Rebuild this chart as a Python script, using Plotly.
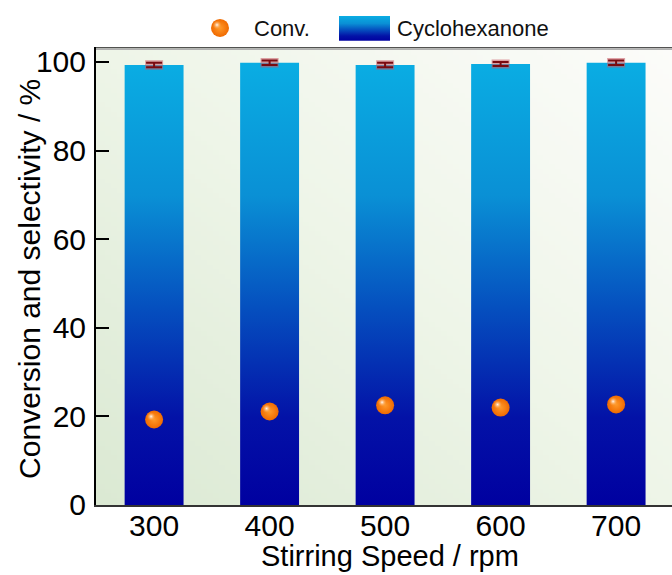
import plotly.graph_objects as go
import zlib, struct, base64

# ---- data ----
speeds = [300, 400, 500, 600, 700]
tick_labels = ["300", "400", "500", "600", "700"]
selectivity = [99.3, 99.8, 99.3, 99.55, 99.8]      # Cyclohexanone selectivity / %
sel_err = [0.5, 0.5, 0.5, 0.45, 0.5]
conversion = [19.3, 21.1, 22.5, 22.0, 22.7]         # Conv. / %
y_ticks = [0, 20, 40, 60, 80, 100]

# ---- styling ----
FONT = "Liberation Sans, Arial, sans-serif"
bar_width = 51
x_range = [249.7, 748.4]
y_range = [0, 103.3]
W, H = 672, 575
ML, MB = 96, 70
top_px = 45.5
plot_h = H - MB
plot_w = W - ML
main_top = (plot_h - top_px) / plot_h

bar_scale = [[0, "#0000A0"], [0.2, "#0312A7"], [0.45, "#0550BF"],
             [0.7, "#0A90D5"], [1, "#0AADE3"]]


def png_uri(w, h, fn):
    raw = b"".join(b"\x00" + b"".join(bytes(fn(i, j)) for i in range(w)) for j in range(h))

    def chunk(t, d):
        return struct.pack(">I", len(d)) + t + d + struct.pack(">I", zlib.crc32(t + d) & 0xffffffff)
    png = (b"\x89PNG\r\n\x1a\n" + chunk(b"IHDR", struct.pack(">IIBBBBB", w, h, 8, 2, 0, 0, 0))
           + chunk(b"IDAT", zlib.compress(raw)) + chunk(b"IEND", b""))
    return "data:image/png;base64," + base64.b64encode(png).decode()


bg_stops = [(0.0, (219, 233, 211)), (0.5, (238, 245, 232)), (1.0, (252, 252, 250))]


def bg_pix(i, j, w=96, h=96):
    s = (i / (w - 1) + (1 - j / (h - 1))) / 2
    for (a, ca), (b, cb) in zip(bg_stops[:-1], bg_stops[1:]):
        if s <= b:
            t = (s - a) / (b - a)
            return [round(ca[k] + (cb[k] - ca[k]) * t) for k in range(3)]
    return list(bg_stops[-1][1])


bg_uri = png_uri(96, 96, bg_pix)

# ---- bars as gradient-filled shapes on the data axes ----
bx, by = [], []
for c, v in zip(speeds, selectivity):
    bx += [c - bar_width / 2, c + bar_width / 2, c + bar_width / 2, c - bar_width / 2, c - bar_width / 2, None]
    by += [0, 0, v, v, 0, None]

fig = go.Figure()
fig.add_trace(go.Scatter(
    x=bx, y=by, mode="lines", fill="toself",
    line=dict(width=0, color="rgba(0,0,0,0)"),
    fillgradient=dict(type="vertical", colorscale=bar_scale, start=0, stop=100),
    hoverinfo="skip", name="Cyclohexanone"))

# error bars (halo + core)
fig.add_trace(go.Scatter(
    x=speeds, y=selectivity, mode="markers", marker=dict(size=1, opacity=0),
    error_y=dict(type="data", array=sel_err, color="rgba(200,90,100,0.55)", thickness=5, width=9),
    hoverinfo="skip"))
fig.add_trace(go.Scatter(
    x=speeds, y=selectivity, mode="markers", marker=dict(size=1, opacity=0),
    error_y=dict(type="data", array=sel_err, color="#7A0A10", thickness=2, width=8),
    hoverinfo="skip"))

# conversion spheres
px_x = plot_w / (x_range[1] - x_range[0])
px_y = (plot_h - top_px) / (y_range[1] - y_range[0])
fig.add_trace(go.Scatter(
    x=speeds, y=conversion, mode="markers", name="Conv.",
    marker=dict(size=18, color="#F06A00", line=dict(width=0),
                gradient=dict(type="radial", color="#FF9A2A"))))
fig.add_trace(go.Scatter(
    x=[s - 3 / px_x for s in speeds], y=[c + 3 / px_y for c in conversion], mode="markers",
    marker=dict(size=9, color="rgba(255,160,60,0)", line=dict(width=0),
                gradient=dict(type="radial", color="rgba(255,255,255,0.95)")),
    hoverinfo="skip"))

# ---- legend drawn on its own pixel-scaled axes above the plot ----
leg_ax = dict(xaxis="x2", yaxis="y2", hoverinfo="skip", cliponaxis=False)
fig.add_trace(go.Scatter(x=[220], y=[26], mode="markers",
                         marker=dict(size=18, color="#F06A00", gradient=dict(type="radial", color="#FF9A2A")),
                         **leg_ax))
fig.add_trace(go.Scatter(x=[217], y=[23], mode="markers",
                         marker=dict(size=9, color="rgba(255,160,60,0)",
                                     gradient=dict(type="radial", color="rgba(255,255,255,0.95)")),
                         **leg_ax))
fig.add_trace(go.Scatter(x=[339, 390, 390, 339, 339], y=[14, 14, 39, 39, 14], mode="lines", fill="toself",
                         line=dict(width=0, color="rgba(0,0,0,0)"),
                         fillgradient=dict(type="vertical", colorscale=bar_scale, start=39, stop=14),
                         **leg_ax))

fig.update_layout(
    width=W, height=H,
    margin=dict(l=ML, r=0, t=0, b=MB),
    paper_bgcolor="white", plot_bgcolor="rgba(0,0,0,0)",
    showlegend=False,
    font=dict(family=FONT, color="black"),
    xaxis=dict(range=x_range, tickvals=speeds, ticktext=tick_labels, ticks="",
               showline=True, linecolor="#333333", linewidth=2, showgrid=False, zeroline=False,
               tickfont=dict(size=30), ticklabelstandoff=-7, anchor="y"),
    yaxis=dict(range=y_range, domain=[0, main_top], tickvals=y_ticks, ticks="inside", ticklen=13,
               tickwidth=2, tickcolor="black", showline=True, linecolor="black", linewidth=2,
               showgrid=False, zeroline=False, tickfont=dict(size=30), ticklabelstandoff=2, anchor="x"),
    xaxis2=dict(domain=[0, 1], range=[ML, W], visible=False, anchor="y2"),
    yaxis2=dict(domain=[main_top, 1], range=[top_px, 0], visible=False, anchor="x2"),
    images=[dict(source=bg_uri, xref="x", yref="y", x=x_range[0], y=y_range[1],
                 sizex=x_range[1] - x_range[0], sizey=y_range[1] - y_range[0],
                 sizing="stretch", layer="below")],
    shapes=[
        dict(type="line", xref="paper", yref="y", x0=0, x1=1, y0=y_range[1], y1=y_range[1],
             line=dict(color="#1a1a1a", width=2)),
        dict(type="line", xref="paper", yref="y", x0=0, x1=1,
             y0=y_range[1] - 2 / px_y, y1=y_range[1] - 2 / px_y, line=dict(color="#b0b0b0", width=1.5)),
    ],
    annotations=[
        dict(text="Conv.", xref="x2", yref="y2", x=252, y=27, xanchor="left", yanchor="middle",
             showarrow=False, font=dict(size=22, color="#111111")),
        dict(text="Cyclohexanone", xref="x2", yref="y2", x=395, y=27, xanchor="left", yanchor="middle",
             showarrow=False, font=dict(size=22, color="#111111")),
        dict(text="Stirring Speed / rpm", xref="paper", yref="paper",
             x=(390 - ML) / plot_w, y=(plot_h - 556) / plot_h, xanchor="center", yanchor="middle",
             showarrow=False, font=dict(size=29)),
        dict(text="Conversion and selectivity / %", xref="paper", yref="paper", textangle=-90,
             x=(30 - ML) / plot_w, y=(plot_h - 278) / plot_h, xanchor="center", yanchor="middle",
             showarrow=False, font=dict(size=30)),
    ],
)

fig.write_html("out.html")
